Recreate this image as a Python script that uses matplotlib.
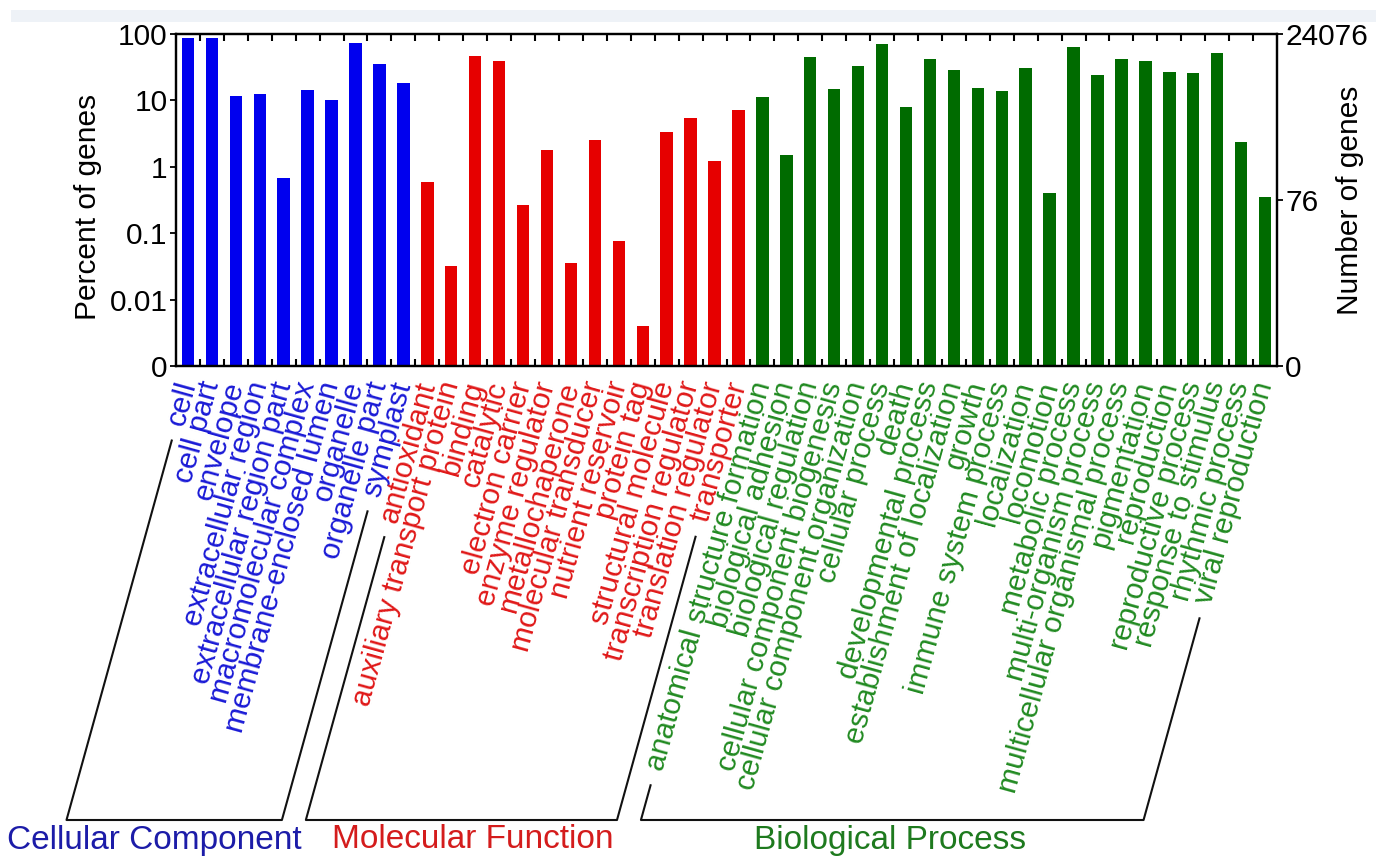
import numpy as np
import matplotlib
matplotlib.use("Agg")
import matplotlib.pyplot as plt
from matplotlib.ticker import FixedLocator, NullLocator
from matplotlib.transforms import ScaledTranslation
from matplotlib.lines import Line2D
from matplotlib.patches import Rectangle
from matplotlib.font_manager import FontProperties

# ---------------- data ----------------
cc_terms = ["cell", "cell part", "envelope", "extracellular region",
            "extracellular region part", "macromolecular complex",
            "membrane-enclosed lumen", "organelle", "organelle part", "symplast"]
cc_percent = [86, 86, 11.6, 12.5, 0.69, 14.3, 10.1, 74, 35.3, 18.1]

mf_terms = ["antioxidant", "auxiliary transport protein", "binding", "catalytic",
            "electron carrier", "enzyme regulator", "metallochaperone",
            "molecular transducer", "nutrient reservoir", "protein tag",
            "structural molecule", "transcription regulator",
            "translation regulator", "transporter"]
mf_percent = [0.60, 0.032, 47.1, 39.2, 0.27, 1.79, 0.035, 2.53, 0.076, 0.0040,
              3.31, 5.37, 1.24, 7.17]

bp_terms = ["anatomical structure formation", "biological adhesion",
            "biological regulation", "cellular component biogenesis",
            "cellular component organization", "cellular process", "death",
            "developmental process", "establishment of localization", "growth",
            "immune system process", "localization", "locomotion",
            "metabolic process", "multi-organism process",
            "multicellular organismal process", "pigmentation", "reproduction",
            "reproductive process", "response to stimulus", "rhythmic process",
            "viral reproduction"]
bp_percent = [11.4, 1.51, 45.6, 14.7, 33.3, 70.6, 8.04, 41.5, 28.7, 15.2, 13.9,
              30.4, 0.40, 64.4, 24.1, 41.5, 39.2, 27.0, 26.1, 52.3, 2.39, 0.35]

group_names = ["Cellular Component", "Molecular Function", "Biological Process"]
total_genes = 24076
left_ticks = [0.001, 0.01, 0.1, 1, 10, 100]
left_tick_labels = ["0", "0.01", "0.1", "1", "10", "100"]
right_tick_counts = [0, 76, 24076]

# ---------------- style ----------------
W, H, DPI = 1376, 858, 100
bar_colors = ["#0000ee", "#e60000", "#006b00"]
text_colors = ["#1a1ad6", "#e01818", "#218a21"]
group_text_colors = ["#1c1ca8", "#d41c1c", "#1e7a1e"]
plt.rcParams["font.family"] = ["Liberation Sans", "DejaVu Sans"]
FS = 21.5
LABEL_ANGLE = 74.5

fig = plt.figure(figsize=(W / DPI, H / DPI), dpi=DPI)
fig.patches.append(Rectangle((11 / W, 1 - 22 / H), 1 - 11 / W, 12 / H,
                             transform=fig.transFigure, facecolor="#eef2f7",
                             edgecolor="none", zorder=0))

ax_left, ax_right, ax_top, ax_bottom = 176, 1277, 34, 366
ax = fig.add_axes([ax_left / W, 1 - ax_bottom / H, (ax_right - ax_left) / W,
                   (ax_bottom - ax_top) / H])

groups = [(cc_terms, cc_percent), (mf_terms, mf_percent), (bp_terms, bp_percent)]
ymin, ymax = left_ticks[0], left_ticks[-1]

ax.set_yscale("log")
pos = 0
group_ranges = []
for gi, (terms, vals) in enumerate(groups):
    x = np.arange(pos, pos + len(terms))
    v = np.asarray(vals, dtype=float)
    ax.bar(x, v - ymin, bottom=ymin, width=0.52, color=bar_colors[gi],
           linewidth=0, zorder=2)
    group_ranges.append((pos, pos + len(terms) - 1))
    pos += len(terms)
n = pos

ax.set_xlim(-0.5, n - 0.5)
ax.set_ylim(ymin, ymax)
ax.yaxis.set_major_locator(FixedLocator(left_ticks))
ax.yaxis.set_minor_locator(NullLocator())
ax.set_yticklabels(left_tick_labels)
ax.tick_params(axis="y", which="major", direction="out", length=4, width=1.3,
               labelsize=FS, pad=2)
ax.xaxis.set_major_locator(FixedLocator(np.arange(0.5, n - 1, 1)))
ax.xaxis.set_minor_locator(NullLocator())
ax.tick_params(axis="x", which="major", direction="in", length=5, width=1.5,
               top=True, bottom=True, labelbottom=False)
for s in ax.spines.values():
    s.set_linewidth(1.6)

ax2 = ax.twinx()
ax2.set_yscale("log")
ax2.set_ylim(ymin, ymax)
rpos = [max(c / total_genes * 100, ymin) for c in right_tick_counts]
ax2.yaxis.set_major_locator(FixedLocator(rpos))
ax2.yaxis.set_minor_locator(NullLocator())
ax2.set_yticklabels([str(c) for c in right_tick_counts])
ax2.tick_params(axis="y", direction="out", length=4, width=1.3, labelsize=FS, pad=2)
for s in ax2.spines.values():
    s.set_linewidth(1.6)

fig.text(88 / W, 1 - 207 / H, "Percent of genes", rotation=90, ha="center",
         va="center", fontsize=FS)
fig.text(1350 / W, 1 - 200 / H, "Number of genes", rotation=90, ha="center",
         va="center", fontsize=FS)

# category labels
lab_off = ScaledTranslation(0, -16 / DPI, fig.dpi_scale_trans)
pos = 0
for gi, (terms, vals) in enumerate(groups):
    for t in terms:
        ax.text(pos, 0, t, transform=ax.get_xaxis_transform() + lab_off,
                rotation=LABEL_ANGLE, rotation_mode="anchor", ha="right",
                va="center", fontsize=FS, color=text_colors[gi], clip_on=False)
        pos += 1

# brackets: run along the label direction from each group's first and last label
fig.canvas.draw()
renderer = fig.canvas.get_renderer()
fp = FontProperties(family=["Liberation Sans", "DejaVu Sans"], size=FS)
ang = np.deg2rad(LABEL_ANGLE)
dx, dy = -np.cos(ang), np.sin(ang)  # pixel direction, y downward
base_y = 820
gap = 16
all_terms = cc_terms + mf_terms + bp_terms
for gi, (a, b) in enumerate(group_ranges):
    pts = []
    for idx in (a, b):
        xpix, _ = ax.transData.transform((idx, 1))
        ypix = ax_bottom + 16
        w = renderer.get_text_width_height_descent(all_terms[idx], fp, ismath=False)[0]
        d0 = w + gap
        start = (xpix + dx * d0, ypix + dy * d0)
        t_end = (base_y - ypix) / dy
        end = (xpix + dx * t_end, base_y)
        pts.append((start, end))
    (s1, e1), (s2, e2) = pts
    xs = [s1[0], e1[0], e2[0], s2[0]]
    ys = [s1[1], e1[1], e2[1], s2[1]]
    fig.lines.append(Line2D([xx / W for xx in xs], [1 - yy / H for yy in ys],
                            transform=fig.transFigure, color="#111111", lw=1.5))

group_label_x = [154, 473, 890]
for gi, name in enumerate(group_names):
    fig.text(group_label_x[gi] / W, 1 - 840 / H, name, ha="center", va="center",
             fontsize=24, color=group_text_colors[gi])

fig.savefig("out.png", dpi=DPI)
